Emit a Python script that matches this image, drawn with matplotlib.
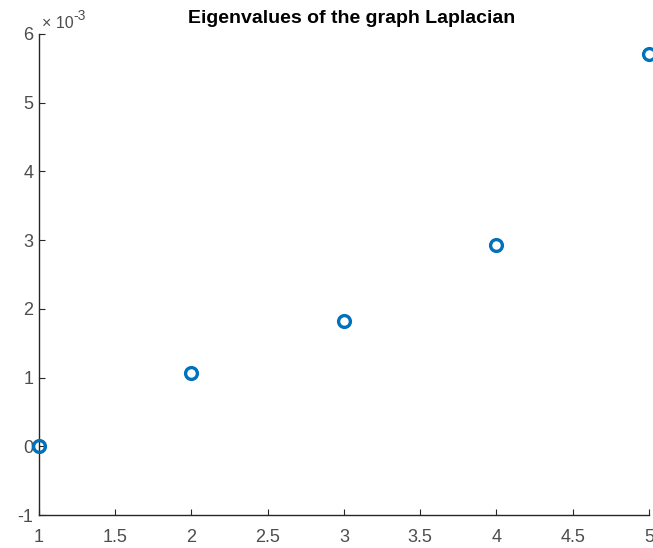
import numpy as np
import matplotlib.pyplot as plt

plt.rcParams['font.family'] = ['Liberation Sans', 'DejaVu Sans']
plt.rcParams['axes.unicode_minus'] = False

# smallest eigenvalues of the graph Laplacian
idx = [1, 2, 3, 4, 5]
eigvals = [0.0, 1.06e-3, 1.82e-3, 2.93e-3, 5.70e-3]

fig = plt.figure(figsize=(6.53, 5.48), dpi=100)
ax = fig.add_axes([0.0597, 0.0602, 0.934, 0.878])

ax.plot(idx, np.array(eigvals) * 1e3, 'o', mfc='none', mec='#0072BD',
        mew=2.4, ms=8.5, clip_on=False, zorder=3)

ax.set_xlim(1, 5)
ax.set_ylim(-1, 6)
ax.set_xticks(np.arange(1, 5.01, 0.5))
ax.set_xticklabels(['1', '1.5', '2', '2.5', '3', '3.5', '4', '4.5', '5'])
ax.set_yticks(range(-1, 7))

for s in ['top', 'right']:
    ax.spines[s].set_visible(False)
for s in ['left', 'bottom']:
    ax.spines[s].set_color('#262626')
    ax.spines[s].set_linewidth(1.0)
ax.tick_params(direction='in', length=4, labelsize=13, colors='#262626',
               labelcolor='#4d4d4d')
ax.tick_params(axis='x', pad=10)
ax.tick_params(axis='y', pad=4)

# exponent label above the y axis
ax.annotate('\u00d7 10', xy=(0, 1), xycoords='axes fraction',
            xytext=(2, 2), textcoords='offset points',
            fontsize=11.5, color='#4d4d4d', ha='left', va='bottom')
ax.annotate('-3', xy=(0, 1), xycoords='axes fraction',
            xytext=(25, 8), textcoords='offset points',
            fontsize=10, color='#4d4d4d', ha='left', va='bottom')

ax.set_title('Eigenvalues of the graph Laplacian', fontsize=14,
             fontweight='bold', color='black', pad=8, x=0.513)

fig.savefig('out.png', dpi=100)
